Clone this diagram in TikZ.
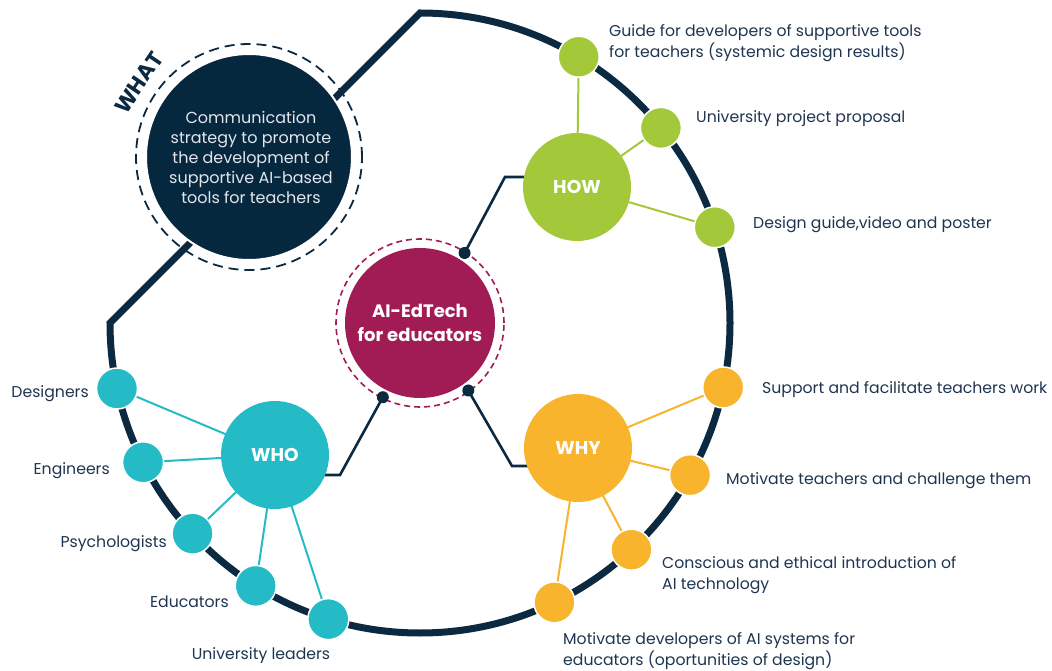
\documentclass[tikz,border=0pt]{standalone}
\usepackage{fontspec}
\setmainfont{Poppins}
\usetikzlibrary{backgrounds,calc}
\definecolor{navy}{HTML}{0B2A42}
\definecolor{whatfill}{HTML}{06283F}
\definecolor{aicol}{HTML}{A11C54}
\definecolor{howcol}{HTML}{A3C93A}
\definecolor{whocol}{HTML}{25BBC6}
\definecolor{whycol}{HTML}{F8B42C}
\definecolor{txtcol}{HTML}{1E3550}
\definecolor{lighttxt}{HTML}{E2E6EC}
\begin{document}
\begin{tikzpicture}[x=1pt,y=1pt,
  bigc/.style={circle,inner sep=0pt,minimum size=108pt,text=white,
    font=\fontsize{18.5}{22}\selectfont\bfseries},
  subc/.style={circle,inner sep=0pt,minimum size=41pt,draw=white,line width=1.5pt},
  dotc/.style={circle,inner sep=0pt,minimum size=12pt,fill=navy},
  lbl/.style={inner sep=0pt,text=txtcol,align=left,
    font=\fontsize{15.7}{21}\selectfont},
  link/.style={line width=2pt},
  navylink/.style={navy,line width=2.6pt,line join=miter}
]
\useasboundingbox (0,0) rectangle (1052,670);
\coordinate (C) at (420,347);

% central node
\node[circle,inner sep=0pt,minimum size=150pt,fill=aicol,text=white,align=center,
  font=\fontsize{18}{24}\selectfont\bfseries] (ai) at (C) {AI-EdTech\\for educators};
\draw[aicol,line width=1.6pt,dash pattern=on 6pt off 4pt] (C) circle (84);

% WHAT node
\node[circle,inner sep=0pt,minimum size=206pt,fill=whatfill,draw=white,line width=2pt] (what) at (249,513) {};
\node[text=lighttxt,align=center,inner sep=0pt,font=\fontsize{16}{20}\selectfont] (whattxt) at (251,513)
  {Communication\\strategy to promote\\the development of\\supportive AI-based\\tools for teachers};
\draw[navy,line width=1.8pt,dash pattern=on 10pt off 6pt] (what.center) circle (113);
\node[text=navy,inner sep=0pt,rotate=56,font=\fontsize{22}{24}\selectfont\bfseries]
  (whatlbl) at ($(what.center)+(146:133)$) {WHAT};

% main circles
\node[bigc,fill=howcol] (how) at (577,483) {HOW};
\node[bigc,fill=whocol] (who) at (275,215) {WHO};
\node[bigc,fill=whycol] (why) at (578,222) {WHY};

% HOW sub nodes
\node[subc,fill=howcol] (h1) at ($(C)+(59.2:310)$) {};
\node[subc,fill=howcol] (h2) at ($(C)+(39.0:310)$) {};
\node[subc,fill=howcol] (h3) at ($(C)+(18.0:310)$) {};
% WHY sub nodes
\node[subc,fill=whycol] (y1) at ($(C)+(-12.0:310)$) {};
\node[subc,fill=whycol] (y2) at ($(C)+(-29.4:310)$) {};
\node[subc,fill=whycol] (y3) at ($(C)+(-47.0:310)$) {};
\node[subc,fill=whycol] (y4) at ($(C)+(-64.3:310)$) {};
% WHO sub nodes
\node[subc,fill=whocol] (w1) at ($(C)+(192.2:310)$) {};
\node[subc,fill=whocol] (w2) at ($(C)+(206.7:310)$) {};
\node[subc,fill=whocol] (w3) at ($(C)+(222.8:310)$) {};
\node[subc,fill=whocol] (w4) at ($(C)+(238.0:310)$) {};
\node[subc,fill=whocol] (w5) at ($(C)+(252.8:310)$) {};

% dots on the dashed ring
\node[dotc] (d1) at ($(C)+(57.5:83)$) {};
\node[dotc] (d2) at ($(C)+(243.4:83)$) {};
\node[dotc] (d3) at ($(C)+(-54.4:83)$) {};
\coordinate (hb) at (505,493);
\coordinate (wb) at (340,195);
\coordinate (yb) at (512,204);

\begin{pgfonlayer}{background}
  \draw[navy,line width=7pt,line join=miter] (420,657) arc[start angle=90,end angle=-180,radius=310] -- cycle;
  \draw[navylink] (d1.center) -- (hb) -- (hb -| how.center);
  \draw[navylink] (d2.center) -- (wb) -- (wb -| who.center);
  \draw[navylink] (d3.center) -- (yb) -- (yb -| why.center);
  \foreach \n in {h1,h2,h3} \draw[link,howcol] (how.center) -- (\n.center);
  \foreach \n in {y1,y2,y3,y4} \draw[link,whycol] (why.center) -- (\n.center);
  \foreach \n in {w1,w2,w3,w4,w5} \draw[link,whocol] (who.center) -- (\n.center);
\end{pgfonlayer}

% labels
\node[lbl,anchor=west] (lh1) at (609,627) {Guide for developers of supportive tools\\for teachers (systemic design results)};
\node[lbl,anchor=west] (lh2) at (696,551) {University project proposal};
\node[lbl,anchor=west] (lh3) at (753,445) {Design guide,video and poster};
\node[lbl,anchor=west] (ly1) at (762,280) {Support and facilitate teachers work};
\node[lbl,anchor=west] (ly2) at (726,189) {Motivate teachers and challenge them};
\node[lbl,anchor=west] (ly3) at (662,95) {Conscious and ethical introduction of\\AI technology};
\node[lbl,anchor=west] (ly4) at (563,19) {Motivate developers of AI systems for\\educators (oportunities of design)};
\node[lbl,anchor=east] (lw1) at (89,276) {Designers};
\node[lbl,anchor=east] (lw2) at (110,199) {Engineers};
\node[lbl,anchor=east] (lw3) at (167,126) {Psychologists};
\node[lbl,anchor=east] (lw4) at (229,68) {Educators};
\node[lbl] (lw5) at (261,14) {University leaders};
\end{tikzpicture}
\end{document}
